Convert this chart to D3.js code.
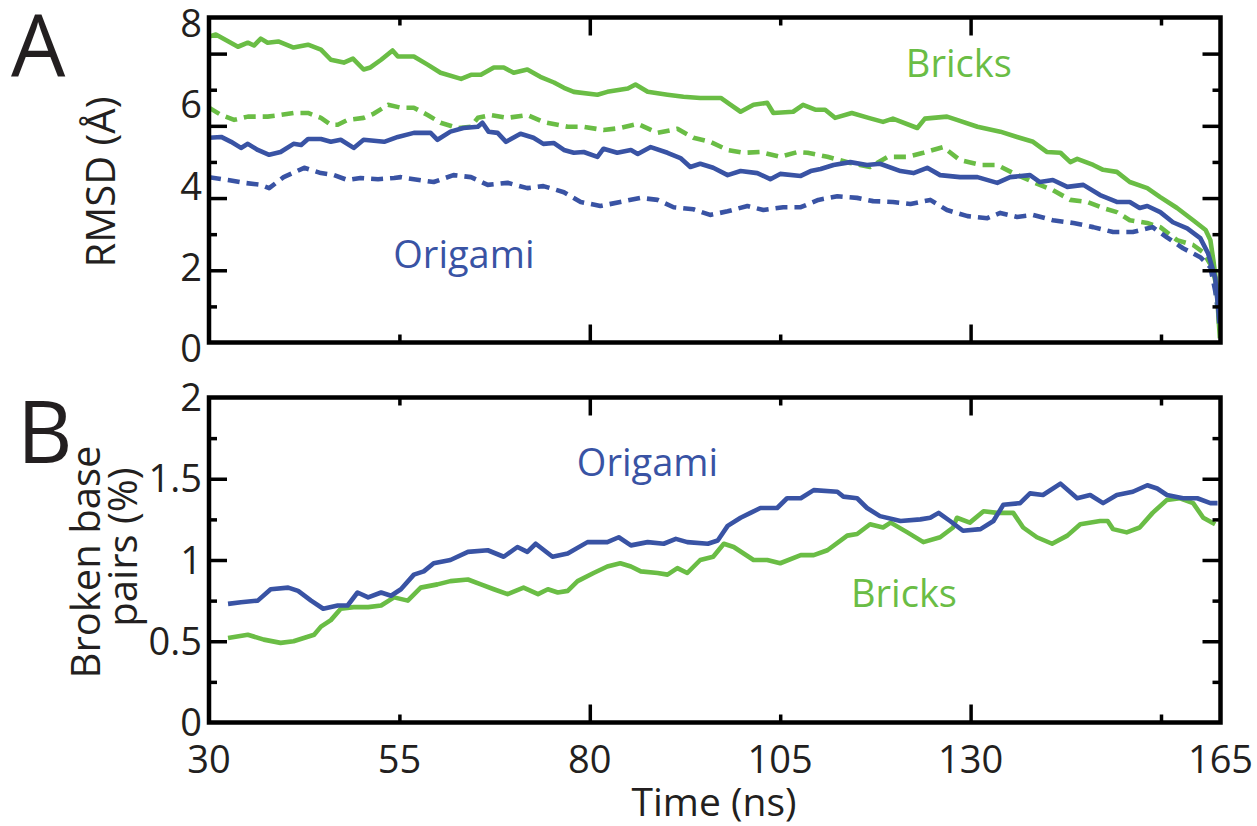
<!DOCTYPE html>
<html lang="en">
<head>
<meta charset="utf-8">
<title>RMSD and broken base pairs</title>
<style>
  body { margin: 0; background: #fff; }
  text { font-family: "Open Sans", "Noto Sans", sans-serif; fill: #231f20; }
  .frame { fill: none; stroke: #000; stroke-width: 4.5; }
  .tick line { stroke: #000; stroke-width: 3.5; }
  .series { fill: none; stroke-width: 4.6; stroke-linejoin: round; }
  .dashed { stroke-dasharray: 12, 7; }
</style>
</head>
<body>
<div id="chart"></div>
<script src="https://cdn.jsdelivr.net/npm/d3@7"></script>
<script>

// ---- data: [time (ns), value] ----
var bricksRmsd = [[30,7.53],[30.9,7.58],[33.8,7.28],[35.1,7.38],[35.9,7.31],[36.8,7.48],[37.7,7.38],[39.1,7.41],[41.1,7.26],[43.0,7.33],[44.7,7.21],[46.0,6.96],[47.7,6.89],[48.9,6.99],[50.3,6.72],[51.2,6.77],[52.6,6.96],[54.1,7.19],[54.8,7.04],[56.9,7.04],[58.7,6.84],[60.4,6.64],[63.1,6.49],[64.4,6.59],[65.7,6.59],[67.4,6.77],[68.7,6.77],[70.0,6.64],[71.8,6.72],[73.5,6.54],[75.3,6.40],[76.6,6.27],[77.9,6.17],[81.0,6.10],[82.3,6.17],[85.0,6.25],[86.0,6.35],[87.6,6.17],[90.2,6.10],[92.3,6.05],[94.5,6.02],[97.2,6.02],[98.5,5.85],[99.8,5.68],[101.5,5.85],[103.3,5.90],[104.1,5.65],[106.7,5.68],[108.0,5.85],[109.6,5.73],[110.9,5.73],[112.2,5.53],[114.4,5.65],[116.6,5.53],[118.5,5.43],[119.8,5.51],[123.0,5.28],[124.0,5.51],[126.9,5.56],[128.2,5.48],[130.9,5.31],[133.9,5.19],[136.1,5.06],[138.2,4.94],[140.0,4.69],[141.8,4.67],[143.1,4.44],[144.0,4.52],[146.1,4.37],[147.4,4.25],[149.2,4.20],[150.9,3.95],[153.2,3.80],[154.9,3.58],[157.7,3.31],[160.4,3.01],[162.5,2.77],[163.3,2.52],[163.8,2.02],[164.3,1.46],[164.7,0.54],[164.9,0.1]];

var bricksRmsdDash = [[30,5.78],[31.6,5.60],[33.3,5.48],[35.1,5.56],[37.7,5.56],[39.4,5.60],[41.1,5.65],[43.0,5.65],[44.7,5.53],[46.0,5.36],[46.9,5.36],[48.2,5.48],[50.3,5.53],[51.6,5.63],[53.5,5.85],[55.2,5.78],[56.9,5.78],[58.7,5.60],[60.4,5.41],[62.7,5.28],[64.4,5.31],[65.3,5.53],[67.0,5.60],[69.2,5.53],[71.8,5.60],[73.9,5.43],[77.1,5.31],[79.2,5.31],[81.8,5.23],[84.0,5.28],[86.3,5.38],[88.9,5.16],[91.5,5.26],[93.6,5.04],[95.8,4.94],[98.1,4.74],[100.2,4.67],[102.4,4.69],[105.0,4.57],[107.3,4.69],[108.6,4.67],[111.2,4.57],[114.2,4.42],[116.8,4.32],[119.1,4.57],[121.7,4.57],[123.8,4.67],[126.4,4.81],[128.6,4.49],[131.3,4.37],[133.5,4.37],[135.6,4.17],[138.2,3.95],[140.8,3.75],[143.1,3.51],[145.3,3.46],[147.4,3.31],[149.2,3.21],[150.9,3.01],[153.2,2.94],[154.9,2.84],[157.7,2.52],[160.4,2.40],[162.1,2.22],[163.6,1.85],[164.5,1.28],[164.8,0.3]];

var origamiRmsd = [[30,5.04],[31.6,5.06],[32.9,4.94],[34.2,4.79],[35.1,4.89],[36.4,4.74],[37.9,4.62],[39.4,4.69],[41.1,4.89],[42.1,4.86],[43.0,5.01],[44.7,5.01],[46.0,4.94],[47.3,4.99],[49.0,4.79],[50.3,4.99],[53.0,4.94],[54.8,5.06],[56.9,5.16],[59.1,5.16],[60.0,4.99],[61.7,5.19],[63.4,5.28],[65.3,5.31],[65.9,5.41],[66.7,5.19],[67.9,5.16],[69.0,4.94],[70.9,5.14],[72.6,5.04],[73.9,4.89],[75.3,4.91],[76.6,4.74],[77.9,4.67],[79.2,4.69],[81.0,4.57],[81.8,4.77],[83.6,4.67],[85.4,4.74],[86.3,4.64],[88.0,4.81],[90.2,4.67],[91.9,4.54],[93.2,4.32],[94.5,4.40],[96.2,4.30],[98.1,4.12],[99.8,4.22],[102.0,4.17],[103.7,4.02],[105.0,4.15],[107.7,4.10],[109.0,4.22],[110.3,4.27],[112.0,4.37],[114.2,4.44],[116.4,4.37],[118.1,4.40],[120.8,4.22],[122.5,4.17],[124.3,4.30],[126.0,4.12],[128.6,4.07],[130.9,4.07],[133.5,3.93],[135.2,4.07],[137.8,4.12],[139.1,3.95],[140.8,4.00],[142.7,3.83],[144.8,3.88],[147.0,3.63],[149.2,3.46],[150.9,3.46],[152.2,3.31],[153.2,3.36],[154.9,3.21],[157.0,2.96],[159.4,2.81],[161.6,2.57],[162.9,2.20],[164.1,1.60],[164.6,0.86],[164.8,0.47]];

var origamiRmsdDash = [[30,4.07],[32.5,4.00],[34.6,3.93],[36.8,3.88],[37.9,3.80],[39.8,4.07],[42.5,4.30],[44.7,4.17],[46.4,4.12],[48.2,4.00],[49.9,4.05],[52.2,4.02],[54.3,4.05],[55.2,4.07],[56.9,4.02],[59.5,3.95],[62.1,4.12],[64.4,4.07],[66.6,3.88],[69.2,3.93],[71.8,3.80],[73.9,3.85],[76.6,3.70],[78.8,3.46],[81.4,3.36],[84.0,3.46],[86.7,3.56],[88.9,3.51],[91.0,3.33],[93.6,3.28],[95.8,3.14],[98.1,3.23],[100.7,3.36],[102.8,3.26],[105.4,3.33],[107.7,3.33],[110.0,3.51],[112.5,3.60],[115.1,3.56],[117.2,3.48],[119.8,3.46],[122.1,3.41],[124.7,3.51],[126.9,3.26],[129.6,3.11],[132.2,3.06],[133.9,3.19],[136.1,3.09],[138.2,3.14],[140.8,3.01],[143.5,2.94],[146.1,2.84],[148.7,2.72],[151.3,2.72],[153.9,2.84],[156.0,2.59],[158.7,2.32],[161.6,2.10],[163.3,1.85],[164.1,1.28],[164.5,0.86]];

var origamiBroken = [[32.5,0.73],[34.2,0.74],[36.4,0.75],[38.1,0.82],[40.4,0.83],[41.7,0.81],[43.4,0.75],[45.0,0.70],[46.9,0.72],[48.2,0.72],[49.5,0.80],[50.9,0.77],[52.6,0.80],[53.9,0.78],[55.2,0.82],[56.9,0.91],[58.2,0.93],[59.5,0.98],[61.7,1.00],[64.0,1.05],[66.6,1.06],[68.7,1.02],[70.5,1.08],[71.8,1.05],[72.9,1.10],[75.1,1.02],[77.1,1.04],[79.7,1.11],[82.3,1.11],[83.8,1.14],[85.4,1.09],[87.6,1.11],[89.7,1.10],[91.3,1.13],[92.8,1.11],[95.5,1.10],[96.8,1.12],[98.1,1.21],[99.8,1.26],[101.1,1.29],[102.4,1.32],[104.6,1.32],[105.9,1.38],[107.7,1.38],[109.4,1.43],[112.5,1.42],[113.3,1.39],[115.1,1.38],[116.4,1.32],[118.1,1.27],[120.8,1.24],[123.4,1.25],[124.7,1.26],[125.8,1.29],[127.3,1.24],[129.0,1.18],[131.3,1.19],[133.0,1.24],[134.3,1.34],[136.5,1.35],[137.8,1.41],[139.5,1.40],[141.8,1.47],[144.0,1.38],[145.7,1.40],[147.4,1.35],[149.2,1.40],[151.3,1.42],[153.2,1.46],[154.5,1.44],[156.0,1.40],[158.7,1.38],[161.1,1.38],[163.3,1.35],[164.5,1.35]];

var bricksBroken = [[32.5,0.52],[35.1,0.54],[37.2,0.51],[39.4,0.49],[41.1,0.50],[43.8,0.54],[44.7,0.59],[46.0,0.63],[47.3,0.70],[49.0,0.71],[50.9,0.71],[52.6,0.72],[54.3,0.77],[56.1,0.75],[57.8,0.83],[60.0,0.85],[61.7,0.87],[64.0,0.88],[65.7,0.85],[67.4,0.82],[69.2,0.79],[71.3,0.83],[73.2,0.79],[74.5,0.82],[75.8,0.80],[77.1,0.81],[78.4,0.87],[80.5,0.92],[82.3,0.96],[84.0,0.98],[85.4,0.96],[86.7,0.93],[88.9,0.92],[90.2,0.91],[91.5,0.95],[92.8,0.92],[94.5,1.00],[96.2,1.02],[97.6,1.10],[98.9,1.08],[101.5,1.00],[103.3,1.00],[105.0,0.98],[107.7,1.03],[109.4,1.03],[111.2,1.06],[113.8,1.15],[115.1,1.16],[116.8,1.22],[118.5,1.20],[119.5,1.23],[121.7,1.17],[123.8,1.11],[126.0,1.14],[127.7,1.20],[128.2,1.26],[129.9,1.23],[131.7,1.30],[133.5,1.29],[135.6,1.29],[136.9,1.20],[138.7,1.14],[140.7,1.10],[142.7,1.15],[144.4,1.22],[147.0,1.24],[148.0,1.24],[148.7,1.19],[150.5,1.17],[152.2,1.20],[153.9,1.29],[156.0,1.37],[158.2,1.38],[160.4,1.35],[162.1,1.26],[164.1,1.22]];

// ---- ticks and labels ----
var timeLabels = [30, 55, 80, 105, 130, 165];
var timeMajorTicks = [80, 130];
var timeMinorTicks = [55, 105, 155];
var rmsdLabels = [0, 2, 4, 6, 8];
var rmsdMajorTicks = [16/9, 32/9, 48/9, 64/9];
var rmsdMinorTicks = [8/9, 24/9, 40/9, 56/9];
var brokenLabels = [0, 0.5, 1, 1.5, 2];
var brokenMajorTicks = [0.5, 1, 1.5];
var brokenMinorTicks = [0.25, 0.75, 1.25, 1.75];

var green = "#6abd45", blue = "#3953a4";

var width = 1257, height = 826;

var svg = d3.select("#chart").append("svg")
    .attr("width", width)
    .attr("height", height);

var xScale = d3.scaleLinear()
    .domain([30, 155, 165])
    .range([209, 1161, 1220.5]);

var yRmsd = d3.scaleLinear().domain([0, 8]).range([342.5, 17.5]);
var yBroken = d3.scaleLinear().domain([0, 2]).range([722.5, 397.5]);

function drawPanel(id, yScale, series, yLabels, yMajor, yMinor, labelShift, notes) {
    var x0 = xScale.range()[0], x1 = xScale.range()[2];
    var yTop = yScale.range()[1], yBot = yScale.range()[0];

    var g = svg.append("g");

    g.append("clipPath").attr("id", "clip" + id)
      .append("rect")
      .attr("x", x0).attr("y", yTop)
      .attr("width", x1 - x0).attr("height", yBot - yTop);

    var line = d3.line()
        .x(function(d) { return xScale(d[0]); })
        .y(function(d) { return yScale(d[1]); });

    g.append("g").attr("clip-path", "url(#clip" + id + ")")
      .selectAll("path")
      .data(series)
      .enter()
      .append("path")
      .attr("class", function(d) { return d.dashed ? "series dashed" : "series"; })
      .attr("stroke", function(d) { return d.color; })
      .attr("d", function(d) { return line(d.values); });

    // inward ticks on all four sides
    function tickAxis(axis, values, len, transform) {
        var a = g.append("g")
            .attr("transform", transform)
            .call(axis.tickValues(values).tickSize(len).tickFormat(""));
        a.select(".domain").remove();
    }
    tickAxis(d3.axisBottom(xScale), timeMajorTicks, -18, "translate(0," + yBot + ")");
    tickAxis(d3.axisBottom(xScale), timeMinorTicks, -8, "translate(0," + yBot + ")");
    tickAxis(d3.axisTop(xScale), timeMajorTicks, -18, "translate(0," + yTop + ")");
    tickAxis(d3.axisTop(xScale), timeMinorTicks, -8, "translate(0," + yTop + ")");
    tickAxis(d3.axisLeft(yScale), yMajor, -18, "translate(" + x0 + ",0)");
    tickAxis(d3.axisLeft(yScale), yMinor, -8, "translate(" + x0 + ",0)");
    tickAxis(d3.axisRight(yScale), yMajor, -18, "translate(" + x1 + ",0)");
    tickAxis(d3.axisRight(yScale), yMinor, -8, "translate(" + x1 + ",0)");

    g.append("rect")
      .attr("class", "frame")
      .attr("x", x0).attr("y", yTop)
      .attr("width", x1 - x0).attr("height", yBot - yTop);

    g.selectAll(".ylab")
      .data(yLabels)
      .enter()
      .append("text")
      .attr("class", "ylab")
      .attr("x", 202)
      .attr("y", function(d) { return yScale(d) + labelShift; })
      .attr("dy", "0.36em")
      .attr("text-anchor", "end")
      .style("font-size", "38px")
      .text(function(d) { return d; });

    g.selectAll(".note")
      .data(notes)
      .enter()
      .append("text")
      .attr("class", "note")
      .attr("x", function(d) { return xScale(d.t); })
      .attr("y", function(d) { return yScale(d.v); })
      .style("font-size", "38px")
      .style("fill", function(d) { return d.color; })
      .text(function(d) { return d.text; });
}

drawPanel("A", yRmsd, [
        {values: bricksRmsdDash, color: green, dashed: true},
        {values: origamiRmsdDash, color: blue, dashed: true},
        {values: bricksRmsd, color: green, dashed: false},
        {values: origamiRmsd, color: blue, dashed: false}
    ], rmsdLabels, rmsdMajorTicks, rmsdMinorTicks, 6,
    [{text: "Bricks", t: 121.5, v: 6.54, color: green},
     {text: "Origami", t: 54.2, v: 1.83, color: blue}]);

drawPanel("B", yBroken, [
        {values: bricksBroken, color: green, dashed: false},
        {values: origamiBroken, color: blue, dashed: false}
    ], brokenLabels, brokenMajorTicks, brokenMinorTicks, 0,
    [{text: "Origami", t: 78.3, v: 1.52, color: blue},
     {text: "Bricks", t: 114.3, v: 0.71, color: green}]);

// x tick labels under panel B
svg.selectAll(".xlab")
   .data(timeLabels)
   .enter()
   .append("text")
   .attr("class", "xlab")
   .attr("x", function(d) { return xScale(d); })
   .attr("y", 773)
   .attr("text-anchor", "middle")
   .style("font-size", "38px")
   .text(function(d) { return d; });

svg.append("text")
   .attr("x", 714).attr("y", 816)
   .attr("text-anchor", "middle")
   .style("font-size", "39px")
   .text("Time (ns)");

svg.append("text")
   .attr("transform", "translate(115,182) rotate(-90)")
   .attr("text-anchor", "middle")
   .style("font-size", "40px")
   .text("RMSD (Å)");

svg.append("text")
   .attr("transform", "translate(100,562) rotate(-90)")
   .attr("text-anchor", "middle")
   .style("font-size", "40px")
   .text("Broken base");

svg.append("text")
   .attr("transform", "translate(137,547) rotate(-90)")
   .attr("text-anchor", "middle")
   .style("font-size", "40px")
   .text("pairs (%)");

// panel letters
svg.append("text").attr("x", 11).attr("y", 77)
   .style("font-size", "86px").text("A");
svg.append("text").attr("x", 17).attr("y", 463)
   .style("font-size", "86px").text("B");

</script>
</body>
</html>
